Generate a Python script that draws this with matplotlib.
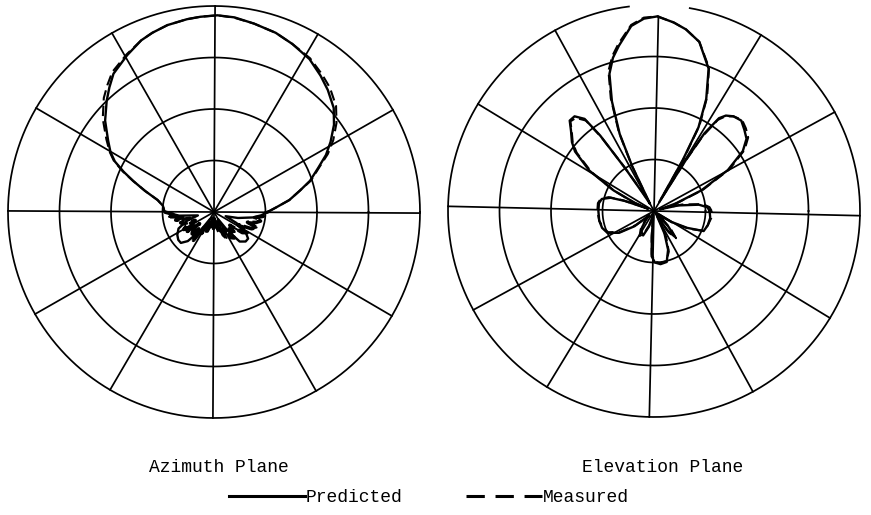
import matplotlib
matplotlib.use("Agg")
import numpy as np
import matplotlib.pyplot as plt
from matplotlib.lines import Line2D

# ---------------- data (radius as fraction of outer ring, angle in degrees) -------------
az_pred_deg = [0, 4, 9, 14, 18, 23, 27, 31, 36, 41, 47, 52, 58, 65, 71, 78, 84, 89, 94, 98,
               104, 109, 113, 119, 126, 130, 134, 140, 146, 150, 153, 156, 159, 163, 168, 173, 180,
               186, 192, 198, 205, 212, 218, 223, 228, 234, 240, 246, 252, 258, 264, 270, 276,
               282, 288, 294, 300, 306, 311, 317, 322, 328, 334, 340, 346, 352, 356, 360]
az_pred_r = [0.26, 0.30, 0.37, 0.43, 0.49, 0.55, 0.61, 0.66, 0.72, 0.77, 0.81, 0.84, 0.875, 0.90,
             0.92, 0.935, 0.95, 0.955, 0.95, 0.945, 0.935, 0.92, 0.905, 0.87, 0.83, 0.79, 0.75,
             0.69, 0.62, 0.58, 0.54, 0.48, 0.42, 0.35, 0.28, 0.25, 0.24,
             0.17, 0.08, 0.14, 0.19, 0.21, 0.22, 0.22, 0.19, 0.11, 0.04, 0.08, 0.10, 0.06, 0.03,
             0.05, 0.03, 0.06, 0.10, 0.08, 0.04, 0.11, 0.19, 0.21, 0.21, 0.18, 0.12, 0.06, 0.12,
             0.19, 0.23, 0.26]

az_meas_deg = [0, 4, 9, 14, 18, 23, 27, 31, 36, 41, 47, 52, 58, 65, 71, 78, 84, 89, 94, 98,
               104, 109, 113, 119, 126, 130, 134, 140, 146, 150, 153, 156, 159, 163, 168, 173, 180,
               183, 186, 189, 192, 195, 198, 201, 204, 207, 210, 213, 216, 219, 222, 225, 228, 231,
               234, 237, 240, 244, 248, 252, 256, 260, 264, 268, 272, 276, 280, 284, 288, 292, 296,
               300, 304, 308, 312, 316, 320, 324, 328, 332, 336, 340, 343, 346, 349, 352, 355, 358, 360]
az_meas_r = [0.26, 0.30, 0.37, 0.43, 0.495, 0.555, 0.62, 0.675, 0.735, 0.785, 0.825, 0.85, 0.88,
             0.90, 0.92, 0.935, 0.948, 0.955, 0.95, 0.945, 0.935, 0.92, 0.905, 0.875, 0.84, 0.805,
             0.77, 0.705, 0.63, 0.585, 0.545, 0.485, 0.42, 0.35, 0.28, 0.25, 0.24,
             0.20, 0.22, 0.15, 0.19, 0.12, 0.17, 0.16, 0.10, 0.15, 0.17, 0.12, 0.16, 0.09, 0.14,
             0.15, 0.11, 0.16, 0.17, 0.09, 0.12, 0.06, 0.10, 0.08, 0.03, 0.07, 0.05, 0.08, 0.06,
             0.04, 0.07, 0.10, 0.05, 0.12, 0.14, 0.09, 0.15, 0.16, 0.11, 0.14, 0.10, 0.17, 0.19,
             0.13, 0.20, 0.22, 0.17, 0.21, 0.23, 0.20, 0.24, 0.25, 0.26]

el_pred_deg = [0, 4, 8, 13, 16, 19, 23.5, 29, 34, 38, 42, 46, 50, 53, 55, 57, 58, 59.5, 60.5, 62,
               65, 69, 75, 80, 84, 89, 93, 97, 102, 105, 108, 111, 114, 116, 119, 122, 124, 125.5,
               127, 130, 133, 136, 140, 143, 148, 153, 157, 159, 161, 163, 167, 172, 180, 190, 198,
               205, 212, 218, 222, 228, 234, 240, 246, 252, 256, 262, 265, 267, 271, 277, 284, 290,
               295, 300, 305, 309, 313, 318, 324, 328, 333, 338, 345, 353, 360]
el_pred_r = [0.27, 0.26, 0.22, 0.12, 0.03, 0.11, 0.25, 0.41, 0.52, 0.57, 0.59, 0.61, 0.60, 0.58,
             0.55, 0.45, 0.30, 0.05, 0.28, 0.46, 0.60, 0.74, 0.85, 0.895, 0.92, 0.945, 0.935,
             0.905, 0.82, 0.77, 0.70, 0.57, 0.41, 0.24, 0.04, 0.10, 0.25, 0.45, 0.56, 0.60, 0.60,
             0.56, 0.52, 0.48, 0.37, 0.22, 0.10, 0.03, 0.15, 0.22, 0.26, 0.27, 0.27, 0.27, 0.265,
             0.25, 0.20, 0.12, 0.03, 0.06, 0.10, 0.12, 0.13, 0.08, 0.02, 0.03, 0.12, 0.22, 0.25,
             0.26, 0.255, 0.20, 0.12, 0.03, 0.12, 0.16, 0.10, 0.02, 0.03, 0.10, 0.18, 0.26, 0.27,
             0.275, 0.27]
el_meas_deg = el_pred_deg
el_meas_r = [0.28, 0.27, 0.24, 0.14, 0.05, 0.12, 0.26, 0.42, 0.53, 0.58, 0.60, 0.615, 0.60,
             0.575, 0.54, 0.43, 0.27, 0.07, 0.30, 0.47, 0.61, 0.745, 0.85, 0.895, 0.92, 0.945,
             0.94, 0.91, 0.83, 0.78, 0.715, 0.585, 0.42, 0.25, 0.05, 0.12, 0.26, 0.44, 0.55, 0.59,
             0.595, 0.555, 0.515, 0.47, 0.36, 0.22, 0.11, 0.05, 0.16, 0.23, 0.265, 0.275, 0.275,
             0.27, 0.26, 0.245, 0.19, 0.11, 0.04, 0.07, 0.11, 0.14, 0.12, 0.07, 0.03, 0.05, 0.13,
             0.21, 0.245, 0.255, 0.25, 0.21, 0.14, 0.05, 0.13, 0.17, 0.12, 0.04, 0.05, 0.11, 0.19,
             0.255, 0.27, 0.28, 0.28]

plane_titles = ["Azimuth Plane", "Elevation Plane"]
legend_labels = ["Predicted", "Measured"]

# ---------------- figure -------------
W, H = 871, 515
R = 206
FONT = "Liberation Mono"
GRID_LW = 1.25
fig = plt.figure(figsize=(W / 100, H / 100), dpi=100)
fig.patch.set_facecolor("white")


def make_polar(cx, cy, rot, gap=None, vert_top=1.0):
    ax = fig.add_axes([(cx - R) / W, (H - cy - R) / H, 2 * R / W, 2 * R / H],
                      projection="polar")
    ax.set_rlim(0, 1)
    ax.set_xticks([])
    ax.set_yticks([])
    ax.grid(False)
    ax.spines["polar"].set_visible(False)
    ax.patch.set_alpha(0)
    th = np.linspace(0, 2 * np.pi, 721)
    for rr in (0.25, 0.5, 0.75):
        ax.plot(th, np.full_like(th, rr), color="k", lw=GRID_LW, clip_on=False)
    if gap is None:
        ax.plot(th, np.ones_like(th), color="k", lw=GRID_LW, clip_on=False)
    else:
        tho = np.radians(np.linspace(gap[1], 360 + gap[0], 700))
        ax.plot(tho, np.ones_like(tho), color="k", lw=GRID_LW, clip_on=False)
    for k in range(12):
        a = np.radians(30 * k + rot)
        top = vert_top if k == 3 else 1.0
        ax.plot([a, a], [0, top], color="k", lw=GRID_LW, clip_on=False)
    return ax


ax1 = make_polar(214, 212, -0.3)
ax2 = make_polar(654, 211, -1.3, gap=(80, 97), vert_top=0.945)

for ax, pd, pr, md, mr in ((ax1, az_pred_deg, az_pred_r, az_meas_deg, az_meas_r),
                           (ax2, el_pred_deg, el_pred_r, el_meas_deg, el_meas_r)):
    ax.plot(np.radians(pd), pr, color="k", lw=1.7, clip_on=False)
    ax.plot(np.radians(md), mr, color="k", lw=1.5, ls=(0, (5, 2.5)), clip_on=False)

# the dense, low-level measured azimuth back lobes print as heavy black strokes
md = np.array(az_meas_deg)
mr = np.array(az_meas_r)
back = md >= 180
ax1.plot(np.radians(md[back]), mr[back], color="k", lw=2.6, ls=(0, (3, 1)), clip_on=False)

fig.text(219 / W, 1 - 467 / H, plane_titles[0], ha="center", va="center",
         family=FONT, size=13)
fig.text(663 / W, 1 - 467 / H, plane_titles[1], ha="center", va="center",
         family=FONT, size=13)

handles = [Line2D([], [], color="k", lw=2.2),
           Line2D([], [], color="k", lw=2.2, ls=(0, (6, 3.5)))]
fig.legend(handles, legend_labels, loc="center", bbox_to_anchor=(429 / W, 1 - 498 / H),
           ncol=2, frameon=False, handlelength=4.2, handletextpad=0.05,
           columnspacing=3.5, prop={"family": FONT, "size": 13})

fig.savefig("out.png", dpi=100, facecolor="white")
